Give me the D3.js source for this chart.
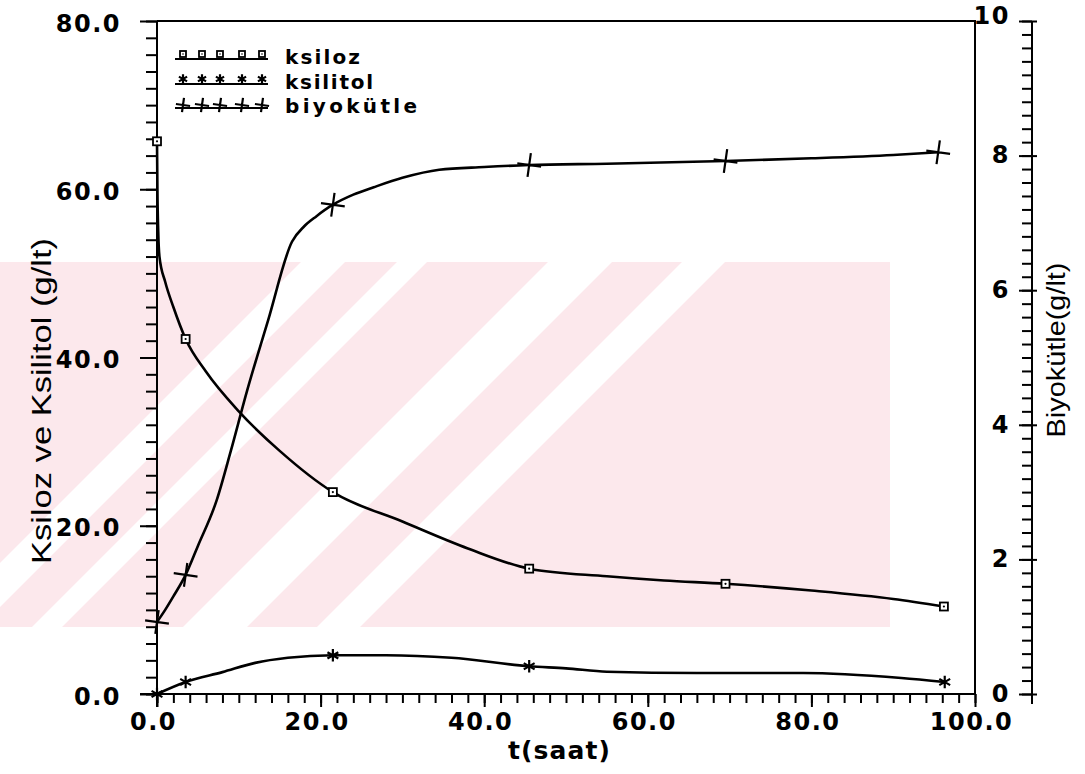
<!DOCTYPE html>
<html>
<head>
<meta charset="utf-8">
<script src="https://cdn.jsdelivr.net/npm/d3@7"></script>
<style>
	body { margin: 0; background: #fff; }
	svg { display: block; }
	.tick-label text { font-family: 'DejaVu Sans', sans-serif; font-size: 24px; font-weight: bold; fill: #000; letter-spacing: 1.5px; }
	.axis path, .axis line { stroke: #000; stroke-width: 2px; }
	.legend-text { font-family: 'DejaVu Sans', sans-serif; font-size: 20px; font-weight: bold; fill: #000; }
	.axis-title { font-family: 'Liberation Sans Narrow', 'Liberation Sans', Arial, sans-serif; fill: #000; }
</style>
</head>
<body>
<svg id="chart" width="1085" height="774"></svg>
<script>
/* global d3 */

// measured points (t in saat)
const sampleTimes = [0, 3.5, 21.5, 45.5, 69.5, 96.2];
const ksilozValues = [65.7, 42.2, 24.0, 14.9, 13.1, 10.4];
const biyokutleTimes = [0, 3.5, 21.5, 45.5, 69.5, 95.5];
const biyokutleValues = [1.07, 1.77, 7.27, 7.86, 7.92, 8.05];
const ksilitolTimes = [0, 3.5, 21.5, 45.5, 96.3];
const ksilitolValues = [0, 1.43, 4.6, 3.3, 1.43];

// fitted curves
const ksilozCurveT = [0, 0.05, 0.15, 0.3, 1, 2, 3.5, 6, 10, 15, 21.5, 30, 38, 45.5, 55, 62, 69.5, 80, 90, 96.2];
const ksilozCurveV = [65.7, 60, 55, 52, 49, 46, 42.2, 38.3, 33.6, 28.9, 24.0, 20.5, 17.3, 14.9, 14.0, 13.5, 13.1, 12.3, 11.3, 10.4];
const ksilitolCurveT = [0, 3.5, 8, 12, 16, 21.5, 28, 36, 45.5, 50, 55, 66, 79, 91, 96.3];
const ksilitolCurveV = [0, 1.43, 2.6, 3.7, 4.3, 4.6, 4.6, 4.3, 3.3, 3.05, 2.65, 2.5, 2.5, 1.9, 1.43];
const biyokutleCurveT = [0, 1, 2, 3.5, 5, 7.3, 9, 11, 13.6, 16.5, 18, 19.5, 21.5, 24, 26.5, 30, 34.5, 40, 45.5, 55, 69.5, 80, 90, 95.5];
const biyokutleCurveV = [1.07, 1.25, 1.45, 1.77, 2.2, 2.88, 3.6, 4.5, 5.56, 6.72, 6.95, 7.1, 7.27, 7.42, 7.53, 7.67, 7.79, 7.83, 7.86, 7.88, 7.92, 7.96, 8.01, 8.05];

// axis ticks
const xMajorTicks = [0, 20, 40, 60, 80, 100];
const yLeftMajorTicks = [0, 20, 40, 60, 80];
const yRightMajorTicks = [0, 2, 4, 6, 8, 10];

const legendItems = [
	{label: 'ksiloz', symbol: 'square'},
	{label: 'ksilitol', symbol: 'asterisk'},
	{label: 'biyokütle', symbol: 'plus'},
];

const svg = d3.select('#chart');

const plot = {left: 157, right: 975, top: 21, bottom: 694};
const rightAxisX = 1032;

// faint watermark in the background
const wmClip = svg.append('clipPath').attr('id', 'wm-clip');
wmClip.append('rect').attr('x', 0).attr('y', 262).attr('width', 890).attr('height', 365);
const wmGroup = svg.append('g').attr('clip-path', 'url(#wm-clip)');
wmGroup.append('rect')
	.attr('x', 0).attr('y', 262).attr('width', 890).attr('height', 365)
	.attr('fill', '#fce8ec');
const wmGaps = [[301, 345], [397, 427], [548, 612], [682, 725]];
wmGroup.selectAll('polygon')
	.data(wmGaps)
	.enter().append('polygon')
	.attr('points', d => `${d[0]},262 ${d[1]},262 ${d[1] - 365},627 ${d[0] - 365},627`)
	.attr('fill', '#fff');

const x = d3.scaleLinear().domain([0, 100]).range([plot.left, plot.right]);
const yLeft = d3.scaleLinear().domain([0, 80]).range([plot.bottom, plot.top]);
const yRight = d3.scaleLinear().domain([0, 10]).range([plot.bottom, plot.top]);

// frame (top and right)
svg.append('path')
	.attr('d', `M${plot.left},${plot.top}H${plot.right}V${plot.bottom}`)
	.attr('fill', 'none')
	.attr('stroke', '#000')
	.attr('stroke-width', 2);

// bottom axis
svg.append('g')
	.attr('class', 'axis')
	.attr('transform', `translate(0,${plot.bottom})`)
	.call(d3.axisBottom(x).tickValues(d3.range(0, 101, 2)).tickSize(9).tickFormat(''))
	.call(g => g.select('.domain').remove());

svg.append('g')
	.attr('class', 'axis tick-label')
	.attr('transform', `translate(0,${plot.bottom})`)
	.call(d3.axisBottom(x).tickValues(xMajorTicks).tickSize(13).tickPadding(6).tickFormat(d3.format('.1f')))
	.call(g => g.select('.domain').attr('d', `M${plot.left - 17},0H${plot.right}`))
	.call(g => g.selectAll('text').attr('dx', -4));

// left axis
svg.append('g')
	.attr('class', 'axis')
	.attr('transform', `translate(${plot.left},0)`)
	.call(d3.axisLeft(yLeft).tickValues(d3.range(0, 81, 2)).tickSize(11).tickFormat(''))
	.call(g => g.select('.domain').remove());

svg.append('g')
	.attr('class', 'axis tick-label')
	.attr('transform', `translate(${plot.left},0)`)
	.call(d3.axisLeft(yLeft).tickValues(yLeftMajorTicks).tickSize(17).tickPadding(19).tickFormat(d3.format('.1f')))
	.call(g => g.select('.domain').attr('d', `M0,${plot.top}V${plot.bottom + 13}`))
	.call(g => g.selectAll('text').attr('dy', '0.42em'));

// right axis (labels on its inner side)
svg.append('g')
	.attr('class', 'axis')
	.attr('transform', `translate(${rightAxisX},0)`)
	.call(d3.axisLeft(yRight).tickValues(d3.range(0, 10.01, 0.2)).tickSize(10).tickFormat(''))
	.call(g => g.select('.domain').remove());

svg.append('g')
	.attr('class', 'axis')
	.attr('transform', `translate(${rightAxisX},0)`)
	.call(d3.axisRight(yRight).tickValues(yRightMajorTicks).tickSize(5).tickFormat(''))
	.call(g => g.select('.domain').remove());

svg.append('g')
	.attr('class', 'axis tick-label')
	.attr('transform', `translate(${rightAxisX},0)`)
	.call(d3.axisLeft(yRight).tickValues(yRightMajorTicks).tickSize(13).tickPadding(9).tickFormat(d3.format('d')))
	.call(g => g.select('.domain').attr('d', `M0,${plot.top}V${plot.bottom + 10}`))
	.call(g => g.selectAll('text').attr('dy', d => d === 10 ? '0.1em' : '0.3em'));

// curves
const lineLeft = d3.line()
	.x(d => x(d[0]))
	.y(d => yLeft(d[1]))
	.curve(d3.curveMonotoneX);
const lineRight = d3.line()
	.x(d => x(d[0]))
	.y(d => yRight(d[1]))
	.curve(d3.curveMonotoneX);

const curves = [
	lineLeft(d3.zip(ksilozCurveT, ksilozCurveV)),
	lineLeft(d3.zip(ksilitolCurveT, ksilitolCurveV)),
	lineRight(d3.zip(biyokutleCurveT, biyokutleCurveV)),
];

svg.append('g')
	.selectAll('path')
	.data(curves)
	.enter().append('path')
	.attr('d', d => d)
	.attr('fill', 'none')
	.attr('stroke', '#000')
	.attr('stroke-width', 2.6)
	.attr('stroke-linejoin', 'round');

// markers
function drawMarker(g, type, scale) {
	const k = scale || 1;
	if (type === 'square') {
		g.append('rect')
			.attr('x', -4 * k).attr('y', -4 * k)
			.attr('width', 8 * k).attr('height', 8 * k)
			.attr('fill', '#fff')
			.attr('stroke', '#000')
			.attr('stroke-width', 1.8);
		g.append('circle').attr('r', 1.1 * k).attr('fill', '#000');
	} else if (type === 'asterisk') {
		g.append('path')
			.attr('d', d3.symbol(d3.symbolAsterisk, 110 * k * k)())
			.attr('stroke', '#000')
			.attr('stroke-width', 2.2)
			.attr('fill', 'none');
	} else {
		g.append('path')
			.attr('d', d3.symbol(d3.symbolPlus, 190 * k * k)())
			.attr('transform', 'rotate(8)')
			.attr('stroke', '#000')
			.attr('stroke-width', 2.2)
			.attr('fill', 'none');
	}
}

const markerSets = [
	{type: 'square', pts: d3.zip(sampleTimes, ksilozValues), y: yLeft},
	{type: 'asterisk', pts: d3.zip(ksilitolTimes, ksilitolValues), y: yLeft},
	{type: 'plus', pts: d3.zip(biyokutleTimes, biyokutleValues), y: yRight},
];

markerSets.forEach(set => {
	svg.append('g')
		.selectAll('g')
		.data(set.pts)
		.enter().append('g')
		.attr('transform', d => `translate(${x(d[0])},${set.y(d[1])})`)
		.each(function () {
			drawMarker(d3.select(this), set.type, 1);
		});
});

// legend
const legend = svg.append('g').attr('transform', 'translate(175,0)');
const legendRowY = [59, 84, 108];
const legendTextLen = [75, 88, 132];
const legendMarkerX = [8, 27, 45, 67, 87];

legendItems.forEach((item, i) => {
	const row = legend.append('g').attr('transform', `translate(0,${legendRowY[i]})`);
	row.append('line')
		.attr('x1', 0).attr('x2', 93)
		.attr('stroke', '#000')
		.attr('stroke-width', 1.8);
	legendMarkerX.forEach(mx => {
		const m = row.append('g')
			.attr('transform', `translate(${mx},${item.symbol === 'plus' ? -3 : -5})`);
		drawMarker(m, item.symbol, item.symbol === 'plus' ? 0.6 : 0.75);
	});
	row.append('text')
		.attr('class', 'legend-text')
		.attr('x', 110)
		.attr('y', 5)
		.attr('textLength', legendTextLen[i])
		.attr('lengthAdjust', 'spacing')
		.text(item.label);
});

// axis titles
svg.append('text')
	.attr('class', 'axis-title')
	.attr('transform', 'translate(42,401) rotate(-90)')
	.attr('text-anchor', 'middle')
	.attr('dominant-baseline', 'central')
	.attr('font-size', 27)
	.attr('textLength', 326)
	.attr('lengthAdjust', 'spacingAndGlyphs')
	.text('Ksiloz ve Ksilitol (g/lt)');

svg.append('text')
	.attr('class', 'axis-title')
	.attr('transform', 'translate(1056,350) rotate(-90)')
	.attr('text-anchor', 'middle')
	.attr('dominant-baseline', 'central')
	.attr('font-size', 25)
	.attr('textLength', 175)
	.attr('lengthAdjust', 'spacingAndGlyphs')
	.text('Biyokütle(g/lt)');

svg.append('text')
	.attr('class', 'legend-text')
	.attr('x', 559)
	.attr('y', 759)
	.attr('text-anchor', 'middle')
	.attr('textLength', 102)
	.attr('lengthAdjust', 'spacing')
	.style('font-size', '25px')
	.text('t(saat)');
</script>
</body>
</html>
